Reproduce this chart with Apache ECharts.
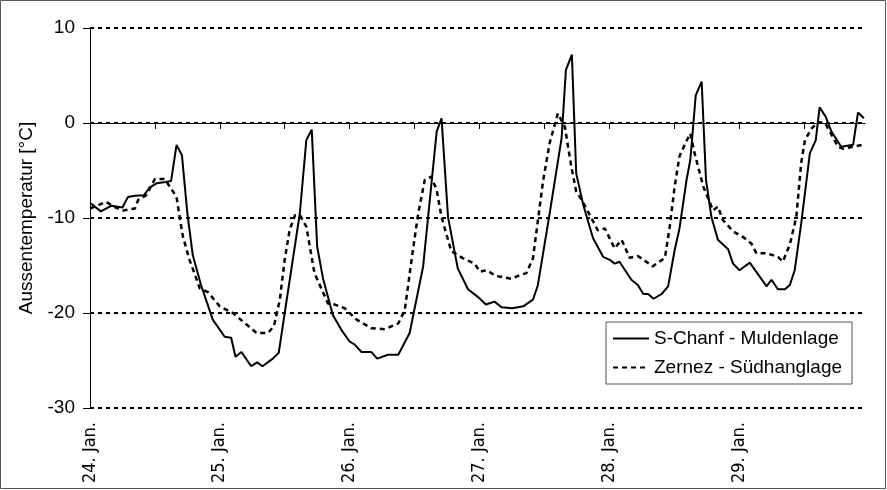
<!DOCTYPE html>
<html>
<head>
<meta charset="utf-8">
<script src="https://cdn.jsdelivr.net/npm/echarts@6/dist/echarts.min.js"></script>
<style>
  html, body { margin: 0; padding: 0; background: #fff; }
  #chart { width: 887px; height: 490px; }
</style>
</head>
<body>
<div id="chart"></div>
<script>
// hours since 24. Jan. 00:00, temperature in °C
const dayLabels = ['24. Jan.', '25. Jan.', '26. Jan.', '27. Jan.', '28. Jan.', '29. Jan.'];
const yTicks = [-30, -20, -10, 0, 10];

const sChanf = [
    [0,-8.4],[2,-9.3],[4,-8.7],[6,-8.9],[7,-7.8],[8.3,-7.65],[10,-7.6],[11,-6.8],[12.3,-6.35],[14,-6.2],
    [15,-6.1],[16,-2.3],[17,-3.4],[18,-9.5],[19,-13.9],[20.5,-17.0],[22.7,-20.7],[24.9,-22.5],[26.1,-22.6],
    [26.9,-24.6],[28,-24.1],[29.8,-25.6],[30.9,-25.2],[31.9,-25.6],[33.8,-24.8],[34.9,-24.2],[36,-20.0],
    [38.8,-9.5],[40,-1.8],[41,-0.7],[42,-13.0],[43.1,-16.4],[44.9,-20.2],[46.5,-21.8],[48,-23.0],[48.9,-23.3],
    [50.2,-24.1],[52,-24.1],[53.1,-24.8],[55.1,-24.4],[57,-24.4],[59.1,-22.1],[61.6,-15.1],[64.1,-0.9],
    [65,0.5],[66.2,-9.9],[68,-15.3],[69.9,-17.5],[71.7,-18.3],[73.2,-19.1],[74.8,-18.8],[76.1,-19.4],
    [78.1,-19.5],[80.1,-19.3],[81.9,-18.6],[82.8,-17.1],[85,-9.5],[87.2,-1.6],[88,5.6],[89.1,7.2],
    [89.9,-5.3],[91.2,-8.6],[93,-12.1],[94.9,-14.1],[96.1,-14.4],[97,-14.8],[97.9,-14.6],[100.1,-16.5],
    [101.3,-17.05],[102.3,-18.0],[103.2,-18.0],[104.2,-18.5],[105.7,-18.0],[106.9,-17.2],[108.1,-13.4],
    [109,-11.1],[110.3,-6.0],[111,-3.9],[112,2.9],[113.1,4.35],[113.9,-6.0],[114.9,-9.9],[116.1,-12.3],
    [118,-13.3],[118.9,-14.8],[120.1,-15.5],[122,-14.7],[125.1,-17.2],[126,-16.5],[127.2,-17.5],
    [128.5,-17.5],[129.4,-17.05],[130.3,-15.5],[131.5,-10.6],[133.1,-3.2],[134.2,-1.8],[134.9,1.65],
    [136,0.7],[137.1,-0.9],[138.9,-2.5],[141.1,-2.3],[142,1.1],[143.1,0.5]
];

const zernez = [
    [0,-9.0],[3,-8.3],[4.3,-8.8],[6.1,-9.2],[8.3,-9.0],[8.9,-8.1],[10.4,-7.6],[12,-5.9],[13.8,-5.9],
    [15,-6.9],[16,-7.8],[16.6,-10.0],[17.2,-12],[18.4,-14.4],[20.3,-17.4],[21.8,-17.8],[24,-19.3],
    [26.4,-20.0],[28.3,-20.9],[30.8,-22.1],[32.9,-22.1],[34,-21.4],[35.1,-18.6],[36,-14.4],[36.9,-11.3],
    [37.9,-9.7],[38.8,-9.7],[40,-10.9],[41.5,-15.8],[44,-19.0],[45.2,-19.1],[47.1,-19.5],[49.3,-20.7],
    [52,-21.6],[54.5,-21.7],[57,-21.1],[58.2,-19.7],[59.7,-13.4],[60.7,-9.5],[61.9,-6.0],[63.1,-5.65],
    [64.1,-7.05],[65,-9.9],[66.8,-13.5],[69,-14.25],[71.1,-14.8],[72.1,-15.65],[73.3,-15.5],[75.1,-16.1],
    [77.9,-16.4],[79.5,-16.0],[80.7,-15.8],[81.9,-14.25],[83.8,-6.0],[85,-2.1],[86.5,1.0],[87.8,-0.4],
    [89,-4.6],[89.9,-7.2],[90.9,-8.1],[92.7,-10.0],[93.9,-11.3],[95.2,-11.1],[97,-13.2],[98.3,-12.3],
    [99.8,-14.2],[101.3,-14.0],[102.6,-14.5],[104,-15.1],[106.3,-14.2],[107.2,-10.9],[108.1,-6.7],
    [109,-3.5],[110.2,-2.0],[111,-1.1],[111.8,-3.2],[113.4,-6.7],[115.2,-9.2],[116.1,-8.8],[117,-10.2],
    [118.9,-11.4],[121,-12.1],[122.3,-12.7],[123.2,-13.7],[125.1,-13.7],[127.2,-14.1],[128.1,-14.6],
    [129.4,-12.8],[130.6,-9.9],[131.5,-4.2],[132.2,-1.8],[133.4,-0.6],[134.6,0.1],[135.9,0.0],
    [136.8,-0.9],[138.3,-2.5],[139.2,-2.7],[141.1,-2.5],[142.9,-2.3]
];

const chart = echarts.init(document.getElementById('chart'));

const option = {
    animation: false,
    backgroundColor: '#fff',
    textStyle: { fontFamily: 'Liberation Sans, Arial, sans-serif', color: '#000' },
    graphic: [{
        type: 'rect',
        shape: { x: 0.5, y: 0.5, width: 885, height: 488 },
        style: { fill: 'none', stroke: '#555', lineWidth: 1 },
        silent: true
    }],
    grid: { left: 90, right: 22, top: 28, bottom: 82 },
    legend: {
        orient: 'vertical',
        left: 606,
        top: 322,
        padding: [7, 10, 7, 6],
        itemWidth: 36,
        itemHeight: 14,
        itemGap: 10,
        borderColor: '#555',
        borderWidth: 1,
        backgroundColor: '#fff',
        itemStyle: { opacity: 0 },
        textStyle: { fontSize: 19, color: '#000', fontFamily: 'Liberation Sans, Arial, sans-serif' },
        data: ['S-Chanf - Muldenlage', 'Zernez - Südhanglage']
    },
    xAxis: {
        type: 'value',
        min: 0,
        max: 143.3,
        interval: 12,
        axisLine: { lineStyle: { color: '#000', width: 1 } },
        axisTick: { length: 6, lineStyle: { color: '#000' } },
        splitLine: { show: false },
        axisLabel: {
            rotate: 90,
            margin: 14,
            fontSize: 18,
            fontFamily: 'Liberation Sans Narrow, DejaVu Sans Condensed, sans-serif',
            color: '#000',
            showMaxLabel: false,
            formatter: v => (v % 24 === 0 ? dayLabels[v / 24] : '')
        }
    },
    yAxis: {
        type: 'value',
        min: yTicks[0],
        max: yTicks[yTicks.length - 1],
        interval: 10,
        name: 'Aussentemperatur [°C]',
        nameLocation: 'middle',
        nameGap: 54,
        nameTextStyle: { fontSize: 19, color: '#000' },
        axisLine: { show: true, lineStyle: { color: '#000', width: 1 } },
        axisTick: { show: true, length: 7, lineStyle: { color: '#000' } },
        axisLabel: { fontSize: 19, margin: 15, color: '#000' },
        splitLine: {
            show: true,
            lineStyle: { color: '#000', width: 2, type: [4, 4] }
        }
    },
    series: [
        {
            name: 'S-Chanf - Muldenlage',
            type: 'line',
            data: sChanf,
            showSymbol: false,
            symbol: 'none',
            lineStyle: { color: '#000', width: 2 },
            itemStyle: { color: '#000' }
        },
        {
            name: 'Zernez - Südhanglage',
            type: 'line',
            data: zernez,
            showSymbol: false,
            symbol: 'none',
            lineStyle: { color: '#000', width: 2.5, type: [5, 4] },
            itemStyle: { color: '#000' }
        }
    ]
};

chart.setOption(option);
</script>
</body>
</html>
